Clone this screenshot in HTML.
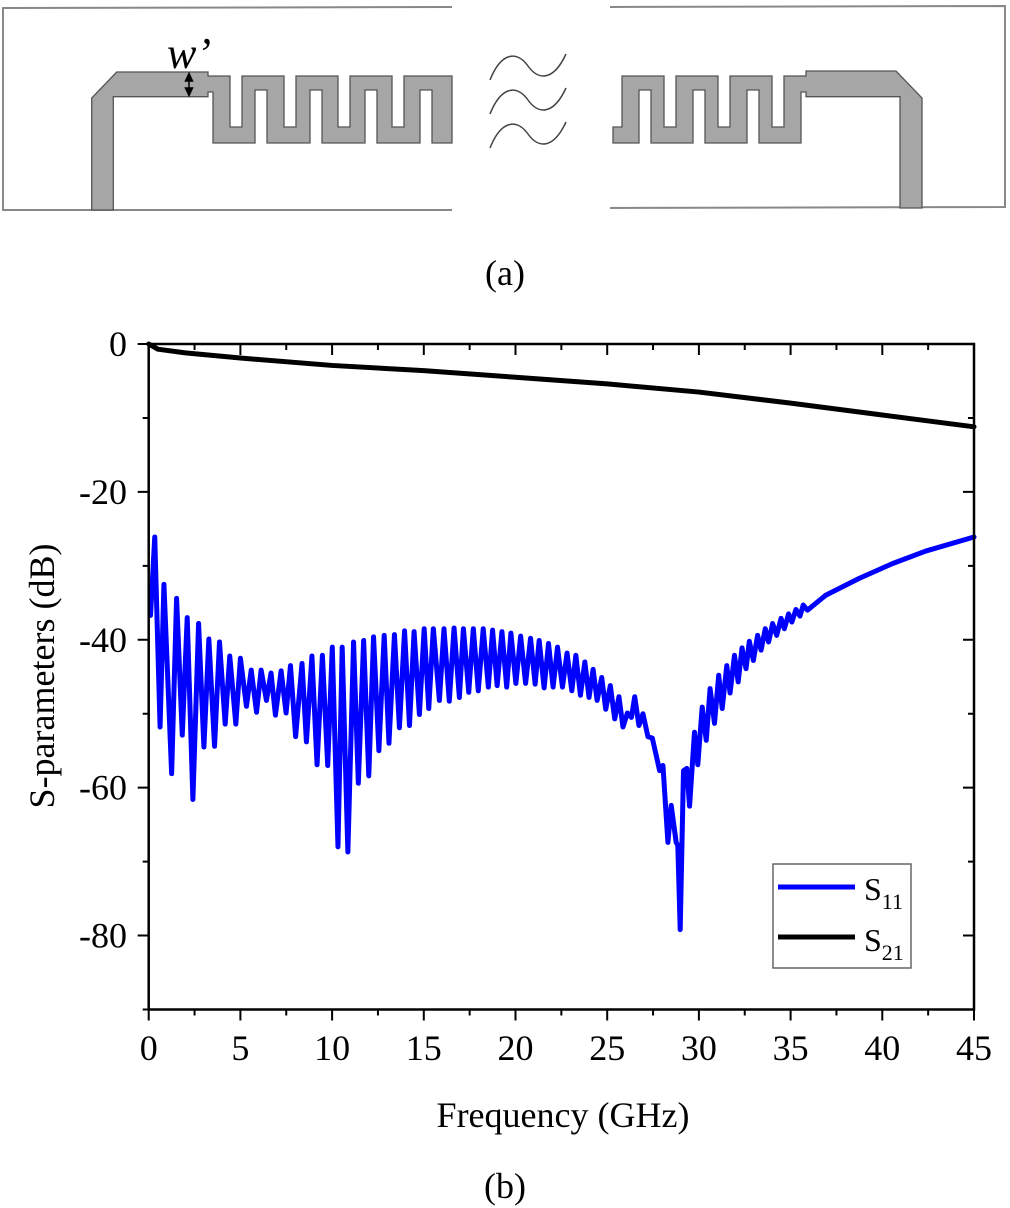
<!DOCTYPE html>
<html><head><meta charset="utf-8"><style>
html,body{margin:0;padding:0;background:#fff;}
svg{display:block;font-family:"Liberation Serif",serif;}
</style></head><body>
<svg id="fig" width="1010" height="1208" viewBox="0 0 1010 1208">
 <g>
  <polyline points="452,7 3,8 3,210 452,210" fill="none" stroke="#888" stroke-width="2"/>
  <polyline points="610,7 1005,6 1005,207 610,208" fill="none" stroke="#888" stroke-width="2"/>
  <path d="M91.7,210 L91.7,98 L116.7,72 L208,72 L208,76 L230,76 L230,127 L242,127 L242,76 L284,76 L284,127 L296,127 L296,76 L338,76 L338,127 L350,127 L350,76 L392,76 L392,127 L404,127 L404,76 L452,76 L452,143 L432,143 L432,90 L420,90 L420,143 L377,143 L377,90 L365,90 L365,143 L322,143 L322,90 L310,90 L310,143 L267,143 L267,90 L255,90 L255,143 L213,143 L213,92 L208,92 L208,96.7 L113.3,96.7 L113.3,210 Z" fill="#a6a6a6" stroke="#555" stroke-width="1.3"/>
  <path d="M922,208 L922,98 L896,71 L806,71 L806,76 L784,76 L784,127 L772,127 L772,76 L730,76 L730,127 L718,127 L718,76 L676,76 L676,127 L664,127 L664,76 L622,76 L622,127 L613,127 L613,143 L639,143 L639,90 L651,90 L651,143 L693,143 L693,90 L705,90 L705,143 L747,143 L747,90 L759,90 L759,143 L801,143 L801,92 L806,92 L806,96.7 L900,96.7 L900,208 Z" fill="#a6a6a6" stroke="#555" stroke-width="1.3"/>
  <g fill="none" stroke="#444" stroke-width="1.5">
   <path d="M490,80 C502,50 518,52 528,66 C538,80 553,82 566,54"/>
   <path d="M490,114 C502,84 518,86 528,100 C538,114 553,116 566,88"/>
   <path d="M490,148 C502,118 518,120 528,134 C538,148 553,150 566,122"/>
  </g>
  <g stroke="#000" stroke-width="1.5">
   <line x1="189" y1="75" x2="189" y2="94"/>
   <path d="M185.5,81 L189,73.5 L192.5,81 Z M185.5,88 L189,95.5 L192.5,88 Z" fill="#000"/>
  </g>
  <text x="167" y="68" font-size="44" font-style="italic">w’</text>
  <text x="505" y="285" font-size="36" text-anchor="middle">(a)</text>
 </g>
 <g id="chart"></g>
 <text x="563" y="1127" font-size="36" text-anchor="middle">Frequency (GHz)</text>
 <text transform="translate(54,676) rotate(-90)" font-size="36" text-anchor="middle">S-parameters (dB)</text>
 <text x="505" y="1198" font-size="36" text-anchor="middle">(b)</text>
 <g>
  <rect x="773" y="864" width="138" height="104" fill="#fff" stroke="#666" stroke-width="1.5"/>
  <line x1="778" y1="887" x2="855" y2="887" stroke="#0000ff" stroke-width="5"/>
  <text x="864" y="900" font-size="32">S<tspan font-size="22" dy="9">11</tspan></text>
  <line x1="778" y1="937" x2="855" y2="937" stroke="#000" stroke-width="5"/>
  <text x="864" y="951" font-size="32">S<tspan font-size="22" dy="9">21</tspan></text>
 </g>
</svg>
<script>
const xTicks = [0,5,10,15,20,25,30,35,40,45];
const yTicks = [0,-20,-40,-60,-80];
const s11Freq = [0.1,0.33,0.62,0.83,1.25,1.52,1.83,2.1,2.41,2.72,3.01,3.28,3.59,3.86,4.17,4.42,4.75,5.0,5.33,5.59,5.88,6.13,6.42,6.67,6.91,7.22,7.49,7.73,8.01,8.36,8.6,8.9,9.18,9.47,9.76,10.01,10.32,10.55,10.86,11.17,11.43,11.72,12.0,12.26,12.55,12.84,13.1,13.4,13.67,13.95,14.22,14.47,14.76,15.02,15.27,15.52,15.85,16.1,16.39,16.65,16.94,17.16,17.45,17.7,17.97,18.24,18.52,18.75,19.0,19.26,19.52,19.75,20.02,20.28,20.55,20.82,21.07,21.29,21.56,21.8,22.05,22.29,22.56,22.81,23.07,23.29,23.54,23.78,24.01,24.23,24.45,24.7,24.92,25.17,25.41,25.64,25.86,26.1,26.32,26.5,26.73,26.95,27.22,27.46,27.86,28.04,28.31,28.49,28.76,28.85,28.98,29.16,29.34,29.49,29.76,29.94,30.18,30.4,30.61,30.85,31.08,31.27,31.52,31.7,31.94,32.14,32.35,32.57,32.75,32.97,33.2,33.39,33.62,33.8,34.02,34.24,34.48,34.66,34.89,35.07,35.29,35.51,35.69,35.92,36.9,38.74,40.55,42.37,45];
const s11dB = [-36.7,-26.1,-51.8,-32.5,-58.1,-34.4,-52.9,-37,-61.6,-37.8,-54.5,-39.9,-54.4,-40.3,-51.4,-42.2,-51.4,-42.5,-49,-44.1,-49.8,-44.1,-48.2,-44.5,-50.2,-44.2,-49.9,-43.5,-53.1,-43.2,-53.8,-42.2,-56.9,-42.1,-57,-41,-68,-41,-68.7,-40.3,-59.4,-40.1,-58.4,-39.6,-55,-39.4,-54,-39.3,-51.9,-38.8,-51.6,-38.9,-50.1,-38.5,-49.3,-38.5,-48.2,-38.5,-48.3,-38.4,-47.8,-38.5,-47.1,-38.5,-46.9,-38.5,-46.4,-38.7,-46.2,-38.9,-46.4,-39.1,-45.9,-39.5,-45.9,-39.8,-46,-40.1,-46.5,-40.5,-46.4,-41,-46.4,-41.8,-46.9,-42.1,-47.5,-43,-47.8,-44,-48.2,-45.1,-49.4,-46.2,-50.7,-47.7,-51.8,-49.9,-50.5,-47.7,-51.6,-50,-53.1,-53.3,-57.7,-57,-67.4,-62.4,-67.4,-67.8,-79.2,-57.7,-57.4,-62.5,-52.5,-56.9,-49.1,-53.6,-46.6,-51.3,-44.8,-49.3,-43.5,-47.2,-42.1,-45.7,-41.1,-43.9,-40.2,-42.8,-39.4,-41.4,-38.5,-40.3,-37.8,-39.4,-37.1,-38.5,-36.5,-37.6,-35.9,-36.8,-35.3,-36,-34,-31.7,-29.7,-28,-26.1];
const s21Freq = [0,0.5,2,5,10,15,20,25,30,35,40,45];
const s21dB = [0,-0.7,-1.2,-1.9,-2.9,-3.6,-4.5,-5.4,-6.5,-8,-9.6,-11.2];

const X0=148.7, X1=974, Y0=344, Y1=1009.5, XMAX=45, YMIN=-90;
function sx(f){return X0+(f/XMAX)*(X1-X0);}
function sy(d){return Y0+(d/YMIN)*(Y1-Y0);}
const NS='http://www.w3.org/2000/svg';
const g=document.getElementById('chart');
function mk(t,a){const e=document.createElementNS(NS,t);for(const k in a)e.setAttribute(k,a[k]);g.appendChild(e);return e;}

function series(fr,vals,color,name){
  let d='';
  for(let i=0;i<fr.length;i++) d+=(i?'L':'M')+sx(fr[i]).toFixed(2)+','+sy(vals[i]).toFixed(2);
  const p=mk('path',{d:d,fill:'none',stroke:color,'stroke-width':5,'stroke-linejoin':'round','stroke-linecap':'round'});
  
  
}
series(s11Freq,s11dB,'#0000ff','s11-line');
series(s21Freq,s21dB,'#000','s21-line');

const frame=mk('rect',{x:X0,y:Y0,width:X1-X0,height:Y1-Y0,fill:'none',stroke:'#000','stroke-width':2.5});



for(let f=0;f<=XMAX+0.01;f+=2.5){
  const major=Math.abs(f/5-Math.round(f/5))<0.01;
  const L=major?11:6, x=sx(f);
  const t=mk('path',{d:`M${x},${Y1}L${x},${Y1+L}M${x},${Y0}L${x},${Y0+L}`,stroke:'#000','stroke-width':2});
  
  
}
for(let d=0;d>=YMIN;d-=10){
  const major=d%20===0;
  const L=major?11:6, y=sy(d);
  const t=mk('path',{d:`M${X0},${y}L${X0-L},${y}M${X1},${y}L${X1-L},${y}`,stroke:'#000','stroke-width':2});
  
  
}
xTicks.forEach(v=>{
  const t=mk('text',{x:sx(v),y:1060,'font-size':36,'text-anchor':'middle'});
  t.textContent=v;
  
  
});
yTicks.forEach(v=>{
  const t=mk('text',{x:127,y:sy(v)+12,'font-size':36,'text-anchor':'end'});
  t.textContent=v;
  
  
});
</script>
</body></html>
